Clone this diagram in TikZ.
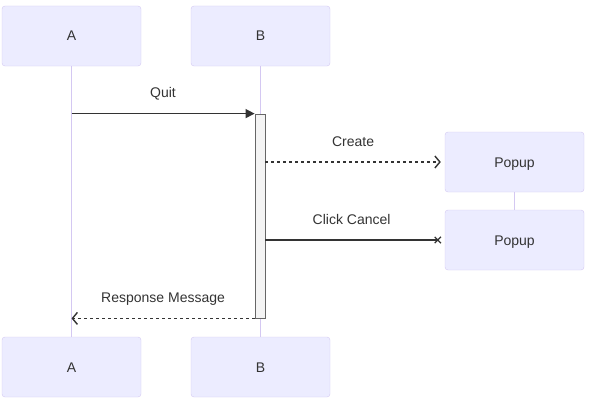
\documentclass[tikz,border=0pt]{standalone}
\usepackage{fontspec}
\setmainfont{Liberation Sans}
\usetikzlibrary{arrows.meta,positioning,shapes.misc}
\definecolor{actfill}{HTML}{ECECFF}
\definecolor{actline}{HTML}{D4C8F2}
\definecolor{txt}{HTML}{333333}
\definecolor{barfill}{HTML}{F4F4F4}
\definecolor{bardraw}{HTML}{666666}

\begin{document}
\begin{tikzpicture}[x=1pt, y=-1pt,
    actor/.style={draw=actline, fill=actfill, rounded corners=3pt, minimum width=139pt, minimum height=60pt, text height=10pt, text depth=0pt, font=\fontsize{14}{16}\selectfont, text=txt},
    life/.style={draw=actline, line width=1.3pt},
    bar/.style={draw=bardraw, fill=barfill, line width=0.8pt, minimum width=10pt, minimum height=204pt, inner sep=0pt},
    msg/.style={draw=txt, line width=1.4pt},
    dots/.style={dash pattern=on 3pt off 3pt},
    lbl/.style={font=\fontsize{14}{16}\selectfont, text=txt, inner sep=0pt, text depth=0pt, above=15pt},
    xmark/.style={cross out, draw=txt, line width=1.2pt, minimum size=5pt, inner sep=0pt}
]
\useasboundingbox (0,0) rectangle (591,404);

\node[actor] (atop) at (71.5,36) {A};
\node[actor] (btop) at (260.5,36) {B};
\node[actor] (abot) at (71.5,367) {A};
\node[actor] (bbot) at (260.5,367) {B};
\node[actor] (pop1) at (514.5,162) {Popup};
\node[actor] (pop2) at (514.5,240) {Popup};

% lifelines
\draw[life] (atop.south) -- (abot.north);
\draw[life] (btop.south) -- (bbot.north);
\draw[life] (pop1.south) -- (pop2.north);

\node[bar] (act) at (260,216) {};

% messages
\draw[msg, -{Triangle[length=9pt,width=9pt]}] (atop |- act.north) -- node[lbl] {Quit} (act.north west);
\draw[msg, dots, -{Straight Barb[length=5pt,width=12pt]}] (act.east |- pop1) -- node[lbl] {Create} ([xshift=-4pt]pop1.west);
\draw[msg] (act.east |- pop2) -- node[lbl] {Click Cancel} ([xshift=-7pt]pop2.west) node[xmark] {};
\draw[msg, dots, -{Straight Barb[length=5pt,width=12pt]}] (act.south west) -- node[lbl] {Response Message} (atop |- act.south);
\end{tikzpicture}
\end{document}
